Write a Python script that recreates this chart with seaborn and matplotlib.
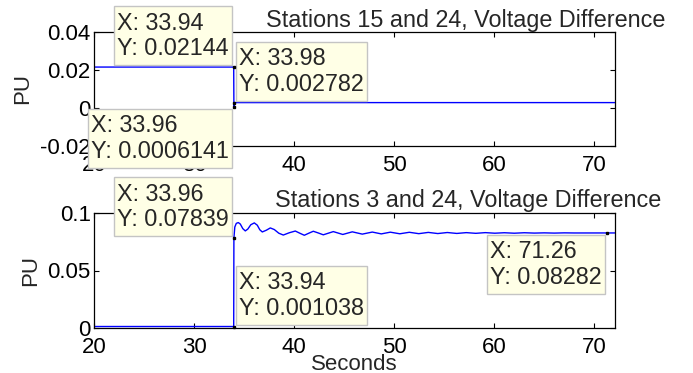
import matplotlib
matplotlib.use('Agg')
import matplotlib.pyplot as plt
import matplotlib.transforms as mtransforms
from matplotlib.patches import Rectangle
import seaborn as sns

# Stations 15 and 24, voltage difference (PU)
t_15_24 = [20.0, 33.94, 33.96, 33.98, 72.07]
pu_15_24 = [0.02144, 0.02144, 0.0006141, 0.002782, 0.002782]

# Stations 3 and 24, voltage difference (PU)
t_3_24 = [20.0, 33.94, 33.96, 34.05, 34.2, 34.4, 34.6, 34.85, 35.1, 35.35,
          35.65, 36.0, 36.3, 36.55, 36.8, 37.2, 37.6, 38.0, 38.45, 38.9,
          39.5, 40.1, 40.55, 41.0, 41.45, 41.9, 42.4, 42.9, 43.4, 43.9,
          44.85, 45.8, 46.8, 47.8, 48.7, 49.6, 50.55, 51.5, 52.45, 53.4,
          54.35, 55.3, 56.25, 57.2, 58.15, 59.1, 60.05, 61.0, 62.0, 63.0,
          64.0, 65.0, 66.0, 67.0, 68.0, 71.26, 72.07]
pu_3_24 = [0.001038, 0.001038, 0.07839, 0.0880, 0.0912, 0.0919, 0.0906, 0.0866, 0.0846, 0.0862,
           0.0900, 0.0916, 0.0896, 0.0856, 0.0837, 0.0852, 0.0872, 0.0858, 0.0826, 0.0810,
           0.0830, 0.0845, 0.0826, 0.0808, 0.0826, 0.0843, 0.0828, 0.0812, 0.0826, 0.0840,
           0.0815, 0.0838, 0.0818, 0.0836, 0.0820, 0.0835, 0.0821, 0.0834, 0.0822, 0.0833,
           0.0823, 0.0832, 0.0824, 0.0831, 0.0825, 0.0831, 0.0826, 0.0830, 0.0826, 0.0830,
           0.0827, 0.0829, 0.0827, 0.0829, 0.0828, 0.08282, 0.08282]

# data tips: x, y, side of the point the box sits on
tips_15_24 = [(33.94, 0.02144, 'ul'), (33.98, 0.002782, 'ur'), (33.96, 0.0006141, 'll')]
tips_3_24 = [(33.96, 0.07839, 'ul'), (33.94, 0.001038, 'ur'), (71.26, 0.08282, 'll')]

yt_15_24 = [-0.02, 0, 0.02, 0.04]
yl_15_24 = ['-0.02', '0', '0.02', '0.04']
yt_3_24 = [0, 0.05, 0.1]
yl_3_24 = ['0', '0.05', '0.1']
xt = [20, 30, 40, 50, 60, 70]

sns.set_style('ticks')
plt.rcParams['font.family'] = ['Liberation Sans', 'DejaVu Sans']
plt.rcParams['axes.linewidth'] = 0.9
FS = 16
TIP_FS = 16.8

W, H = 693, 373
fig = plt.figure(figsize=(W / 100, H / 100), dpi=100)

def make_axes(top_px, bot_px):
    return fig.add_axes([94.3 / W, 1 - bot_px / H, (615 - 94.3) / W, (bot_px - top_px) / H])

ax1 = make_axes(31.7, 146)
ax2 = make_axes(213.3, 327.7)

tip_list = []

def datatip(ax, x, y, where):
    ax.plot([x], [y], marker='s', ms=1.8, color='black', ls='none', clip_on=False, zorder=11)
    txt = ax.text(0, 0, "X: {0:g}\nY: {1:.4g}".format(x, y), transform=mtransforms.IdentityTransform(),
                  ha='left', va='bottom', fontsize=TIP_FS, linespacing=1.13, zorder=12, clip_on=False)
    tip_list.append((ax, x, y, where, txt))

for ax, t, v, ylim, yt, yl, tips, title, tx in [
        (ax1, t_15_24, pu_15_24, (-0.02, 0.04), yt_15_24, yl_15_24, tips_15_24,
         'Stations 15 and 24, Voltage Difference', (466, 27.5)),
        (ax2, t_3_24, pu_3_24, (0, 0.1), yt_3_24, yl_3_24, tips_3_24,
         'Stations 3 and 24, Voltage Difference', (468, 206.5))]:
    sns.lineplot(x=t, y=v, ax=ax, color='blue', linewidth=1, estimator=None, sort=False)
    ax.set_xlim(20, 72.07)
    ax.set_ylim(*ylim)
    ax.set_xticks(xt)
    ax.set_xticklabels([str(x) for x in xt])
    ax.set_yticks(yt)
    ax.set_yticklabels(yl)
    for s in ax.spines.values():
        s.set_visible(True)
        s.set_color('black')
    ax.tick_params(direction='in', top=True, right=True, length=3.5, width=0.8,
                   labelsize=FS, colors='black')
    ax.tick_params(axis='x', pad=6.5)
    ax.tick_params(axis='y', pad=2.5)
    ax.set_ylabel('PU', fontsize=FS, labelpad=5)
    ax.set_xlabel('')
    fig.text(tx[0] / W, 1 - tx[1] / H, title, ha='center', va='baseline', fontsize=16.8)
    for x, y, where in tips:
        datatip(ax, x, y, where)

ax2.set_xlabel('Seconds', fontsize=FS, labelpad=-2.5)

# place the data tip boxes next to their points (pixel layout)
fig.canvas.draw()
renderer = fig.canvas.get_renderer()
gap = 2
pl, pr, pt, pb = 3, 3, 5.5, 5
for ax, x, y, where, txt in tip_list:
    ext = txt.get_window_extent(renderer)
    bw = ext.width + pl + pr
    bh = ext.height + pt + pb
    px, py = ax.transData.transform((x, y))
    if where == 'ul':
        x0, y0 = px - gap - bw, py + gap
    elif where == 'ur':
        x0, y0 = px + gap, py + gap
    else:
        x0, y0 = px - gap - bw, py - gap - bh
    ax.add_patch(Rectangle((x0, y0), bw, bh, transform=mtransforms.IdentityTransform(),
                           facecolor='#FFFFE6', edgecolor='#C4C4C4', linewidth=1,
                           zorder=10, clip_on=False))
    txt.set_position((x0 + pl, y0 + pb))

fig.savefig('out.png', dpi=100)
